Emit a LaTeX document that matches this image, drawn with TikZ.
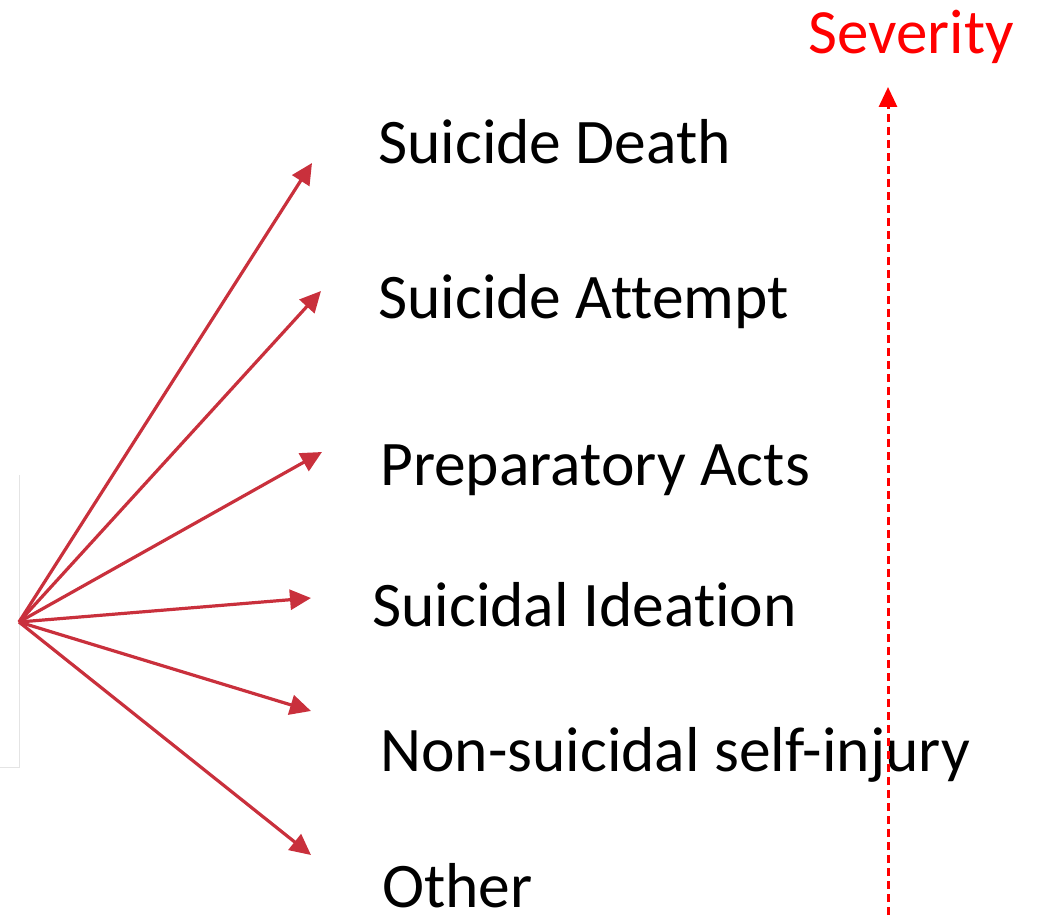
\documentclass[tikz,border=0pt]{standalone}
\usepackage{fontspec}
\setmainfont{Carlito}[Ligatures={NoCommon}]
\usetikzlibrary{arrows.meta}
\definecolor{fanred}{HTML}{C9303C}
\definecolor{sevred}{HTML}{FF0000}
\definecolor{edgegrey}{HTML}{E4E4E4}
\begin{document}
\begin{tikzpicture}[x=1pt,y=-1pt,
  label/.style={anchor=base west,inner sep=0pt,font=\fontsize{63.5}{63.5}\selectfont},
  fan/.style={draw=fanred,line width=3.2pt,-{Triangle[length=21pt,width=20pt]}},
  sev/.style={draw=sevred,line width=3pt,dash pattern=on 8pt off 5pt,-{Triangle[length=20pt,width=18pt]}}]
\useasboundingbox (0,0) rectangle (1041,915);
% faint frame edge
\draw[edgegrey,line width=1pt] (19,475) -- (19,767) -- (0,767);
% labels
\node[label] (death) at (378,163) {Suicide Death};
\node[label] (attempt) at (378,318) {Suicide Attempt};
\node[label] (prep) at (380,485) {Preparatory Acts};
\node[label] (ideation) at (372,626) {Suicidal Ideation};
\node[label] (nssi) at (380,771) {Non-suicidal self-injury};
\node[label] (other) at (382,907) {Other};
\node[anchor=base,inner sep=0pt,text=sevred,font=\fontsize{63}{63}\selectfont] (severity) at (911,54) {Severity};
% fan of arrows
\coordinate (src) at (19,622);
\coordinate (t1) at (312,163);
\coordinate (t2) at (321,291);
\coordinate (t3) at (322,452);
\coordinate (t4) at (311,598);
\coordinate (t5) at (311,711);
\coordinate (t6) at (311,855);
\foreach \t in {t1,t2,t3,t4,t5,t6} \draw[fan] (src) -- (\t);
% severity axis
\coordinate (sbot) at (888,915);
\coordinate (stop) at (888,87);
\draw[sev] (sbot) -- (stop);
\end{tikzpicture}
\end{document}
